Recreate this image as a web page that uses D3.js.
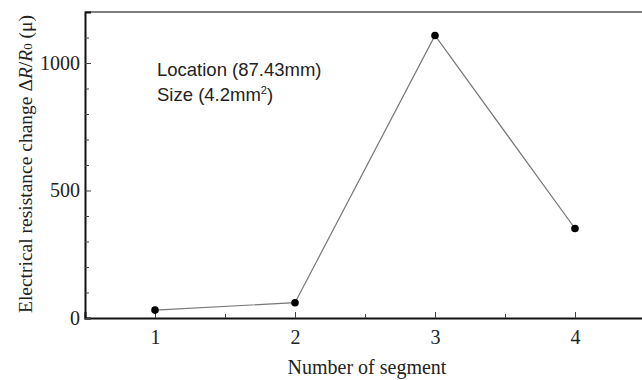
<!DOCTYPE html>
<html>
<head>
<meta charset="utf-8">
<script src="https://cdn.jsdelivr.net/npm/d3@7"></script>
<style>
  body { margin: 0; background: #fff; }
  svg { display: block; }
  .tick text { font-family: "Liberation Serif", "Times New Roman", serif; font-size: 20px; fill: #222; }
</style>
</head>
<body>
<svg id="chart" width="642" height="380"></svg>
<script>
// chart data
const segments = [1, 2, 3, 4];
const resistanceChange = [31, 60, 1108, 351];
const xTicks = [1, 2, 3, 4];
const xMinorTicks = [1.5, 2.5, 3.5];
const yTicks = [0, 500, 1000];
const yMinorTicks = [100, 200, 300, 400, 600, 700, 800, 900, 1100];

const margin = { top: 12, left: 85 };
const plotW = 560, plotH = 306;

const svg = d3.select("#chart");
const g = svg.append("g").attr("transform", `translate(${margin.left},${margin.top})`);

const x = d3.scaleLinear().domain([0.5, 4.5]).range([0, plotW]);
const y = d3.scaleLinear().domain([0, 1200]).range([plotH, 0]);

// frame (top and left only visible, right is cut off)
g.append("line").attr("x1", 0).attr("x2", plotW).attr("y1", 0).attr("y2", 0)
  .attr("stroke", "#555").attr("stroke-width", 1.5);

// axes with inward ticks
const xAxis = g.append("g").attr("transform", `translate(0,${plotH})`)
  .call(d3.axisBottom(x).tickValues(xTicks).tickSize(-6).tickPadding(12).tickFormat(d3.format("d")));
g.append("g").attr("transform", `translate(0,${plotH})`)
  .call(d3.axisBottom(x).tickValues(xMinorTicks).tickSize(-4).tickFormat(""))
  .call(s => s.select(".domain").remove());

const yAxis = g.append("g")
  .call(d3.axisLeft(y).tickValues(yTicks).tickSize(-6).tickPadding(5).tickFormat(d3.format("d")));
g.append("g")
  .call(d3.axisLeft(y).tickValues(yMinorTicks).tickSize(-4).tickFormat(""))
  .call(s => s.select(".domain").remove());

g.selectAll(".domain").attr("stroke", "#111").attr("stroke-width", 2);
g.selectAll(".tick line").attr("stroke", "#444").attr("stroke-width", 1);
xAxis.selectAll(".tick text").attr("dy", "0.71em");

// data line
const pts = segments.map((s, i) => [s, resistanceChange[i]]);
g.append("path")
  .datum(pts)
  .attr("fill", "none")
  .attr("stroke", "#777")
  .attr("stroke-width", 1.2)
  .attr("d", d3.line().x(d => x(d[0])).y(d => y(d[1])));

g.selectAll("circle.pt")
  .data(pts)
  .enter()
  .append("circle")
  .attr("class", "pt")
  .attr("cx", d => x(d[0]))
  .attr("cy", d => y(d[1]))
  .attr("r", 3.8)
  .attr("fill", "#000");

// annotation
const ann = g.append("text")
  .attr("font-family", "Liberation Sans, Arial, sans-serif")
  .attr("font-size", 18.5)
  .attr("fill", "#222");
ann.append("tspan").attr("x", 72).attr("y", 64).text("Location (87.43mm)");
const size = ann.append("tspan").attr("x", 72).attr("y", 89);
size.append("tspan").text("Size (4.2mm");
size.append("tspan").attr("font-size", 11).attr("dy", -7).text("2");
size.append("tspan").attr("dy", 7).text(")");

// axis titles
svg.append("text")
  .attr("x", margin.left + x(2.5) + 2)
  .attr("y", 374)
  .attr("text-anchor", "middle")
  .attr("font-family", "Liberation Serif, Times New Roman, serif")
  .attr("font-size", 20)
  .attr("fill", "#222")
  .text("Number of segment");

const yt = svg.append("text")
  .attr("transform", "translate(32,164) rotate(-90)")
  .attr("text-anchor", "middle")
  .attr("font-family", "Liberation Serif, Times New Roman, serif")
  .attr("font-size", 19.5)
  .attr("fill", "#222");
yt.append("tspan").text("Electrical resistance change Δ");
yt.append("tspan").attr("font-style", "italic").text("R");
yt.append("tspan").text("/");
yt.append("tspan").attr("font-style", "italic").text("R");
yt.append("tspan").attr("font-size", 13).text("0");
yt.append("tspan").text(" (μ)");
</script>
</body>
</html>
